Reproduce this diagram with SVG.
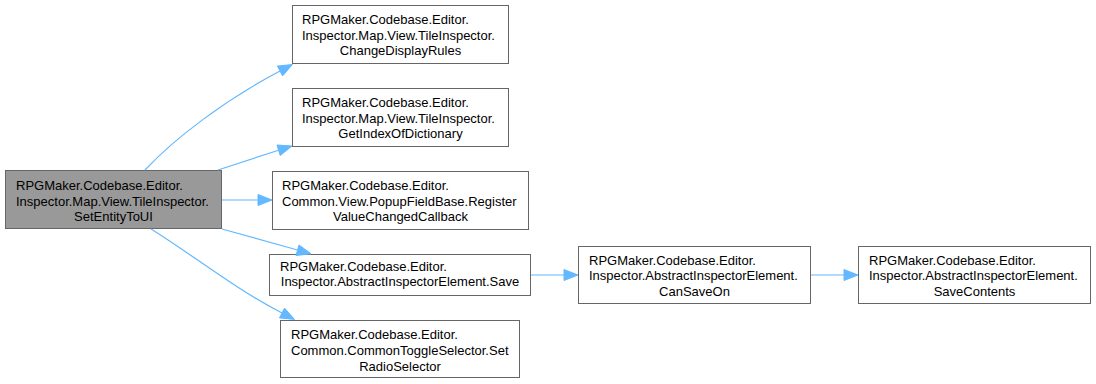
<svg xmlns="http://www.w3.org/2000/svg" width="1096" height="384" viewBox="0 0 1096 384">
  <style>
    .box { fill: #ffffff; stroke: #666666; stroke-width: 1; }
    .root { fill: #999999; stroke: #666666; stroke-width: 1; }
    text { font-family: "Liberation Sans", Arial, sans-serif; font-size: 13px; fill: #000000; }
    .mid { text-anchor: middle; }
    .edge { fill: none; stroke: #63b8ff; stroke-width: 1.2; }
    .head { fill: #63b8ff; stroke: #63b8ff; stroke-width: 1; }
  </style>
  <rect width="1096" height="384" fill="#ffffff"/>

  <g id="node-SetEntityToUI">
    <rect class="root" x="5.5" y="170.5" width="216" height="58"/>
    <text x="16" y="190">RPGMaker.Codebase.Editor.</text>
    <text x="16" y="205.5">Inspector.Map.View.TileInspector.</text>
    <text class="mid" x="113.5" y="221">SetEntityToUI</text>
  </g>

  <g id="node-ChangeDisplayRules">
    <rect class="box" x="292.5" y="5.5" width="216" height="58"/>
    <text x="302" y="24">RPGMaker.Codebase.Editor.</text>
    <text x="302" y="39.5">Inspector.Map.View.TileInspector.</text>
    <text class="mid" x="400.5" y="55">ChangeDisplayRules</text>
  </g>

  <g id="node-GetIndexOfDictionary">
    <rect class="box" x="292.5" y="88.5" width="216" height="58"/>
    <text x="302" y="107">RPGMaker.Codebase.Editor.</text>
    <text x="302" y="122.5">Inspector.Map.View.TileInspector.</text>
    <text class="mid" x="400.5" y="138">GetIndexOfDictionary</text>
  </g>

  <g id="node-RegisterValueChangedCallback">
    <rect class="box" x="272.5" y="171.5" width="256" height="58"/>
    <text x="282" y="190">RPGMaker.Codebase.Editor.</text>
    <text x="282" y="205.5">Common.View.PopupFieldBase.Register</text>
    <text class="mid" x="400.5" y="221">ValueChangedCallback</text>
  </g>

  <g id="node-Save">
    <rect class="box" x="269.5" y="254.5" width="261" height="41"/>
    <text x="280" y="270.5">RPGMaker.Codebase.Editor.</text>
    <text class="mid" x="400" y="286">Inspector.AbstractInspectorElement.Save</text>
  </g>

  <g id="node-SetRadioSelector">
    <rect class="box" x="280.5" y="320.5" width="239" height="57"/>
    <text x="291" y="339">RPGMaker.Codebase.Editor.</text>
    <text x="291" y="355">Common.CommonToggleSelector.Set</text>
    <text class="mid" x="400" y="370.5">RadioSelector</text>
  </g>

  <g id="node-CanSaveOn">
    <rect class="box" x="578.5" y="246.5" width="232" height="57"/>
    <text x="589" y="264.5">RPGMaker.Codebase.Editor.</text>
    <text x="589" y="280">Inspector.AbstractInspectorElement.</text>
    <text class="mid" x="694.5" y="295.5">CanSaveOn</text>
  </g>

  <g id="node-SaveContents">
    <rect class="box" x="858.5" y="246.5" width="232" height="57"/>
    <text x="869" y="264.5">RPGMaker.Codebase.Editor.</text>
    <text x="869" y="280">Inspector.AbstractInspectorElement.</text>
    <text class="mid" x="974.5" y="295.5">SaveContents</text>
  </g>

  <g id="connectors">
    <!-- SetEntityToUI -> ChangeDisplayRules -->
    <path class="edge" d="M145,170 C175,138 225,100 280,71"/>
    <polygon class="head" points="277.4,66.1 292.4,64.5 282.6,75.9"/>
    <!-- SetEntityToUI -> GetIndexOfDictionary -->
    <path class="edge" d="M218,170 L278.6,150.2"/>
    <polygon class="head" points="277,145 292,146 280.2,155.5"/>
    <!-- SetEntityToUI -> RegisterValueChangedCallback -->
    <path class="edge" d="M222,200 L258,200"/>
    <polygon class="head" points="258,194.5 272,200 258,205.5"/>
    <!-- SetEntityToUI -> Save -->
    <path class="edge" d="M222,229 L297.5,250"/>
    <polygon class="head" points="299,244.9 311,253.8 296,255.5"/>
    <!-- SetEntityToUI -> SetRadioSelector -->
    <path class="edge" d="M151,229 C190,253 235,289 282,313"/>
    <polygon class="head" points="284.5,308.1 294.5,319.4 279.5,317.9"/>
    <!-- Save -> CanSaveOn -->
    <path class="edge" d="M531,275 L564,275"/>
    <polygon class="head" points="564,269.5 578,275 564,280.5"/>
    <!-- CanSaveOn -> SaveContents -->
    <path class="edge" d="M811,275 L844,275"/>
    <polygon class="head" points="844,269.5 858,275 844,280.5"/>
  </g>
</svg>
